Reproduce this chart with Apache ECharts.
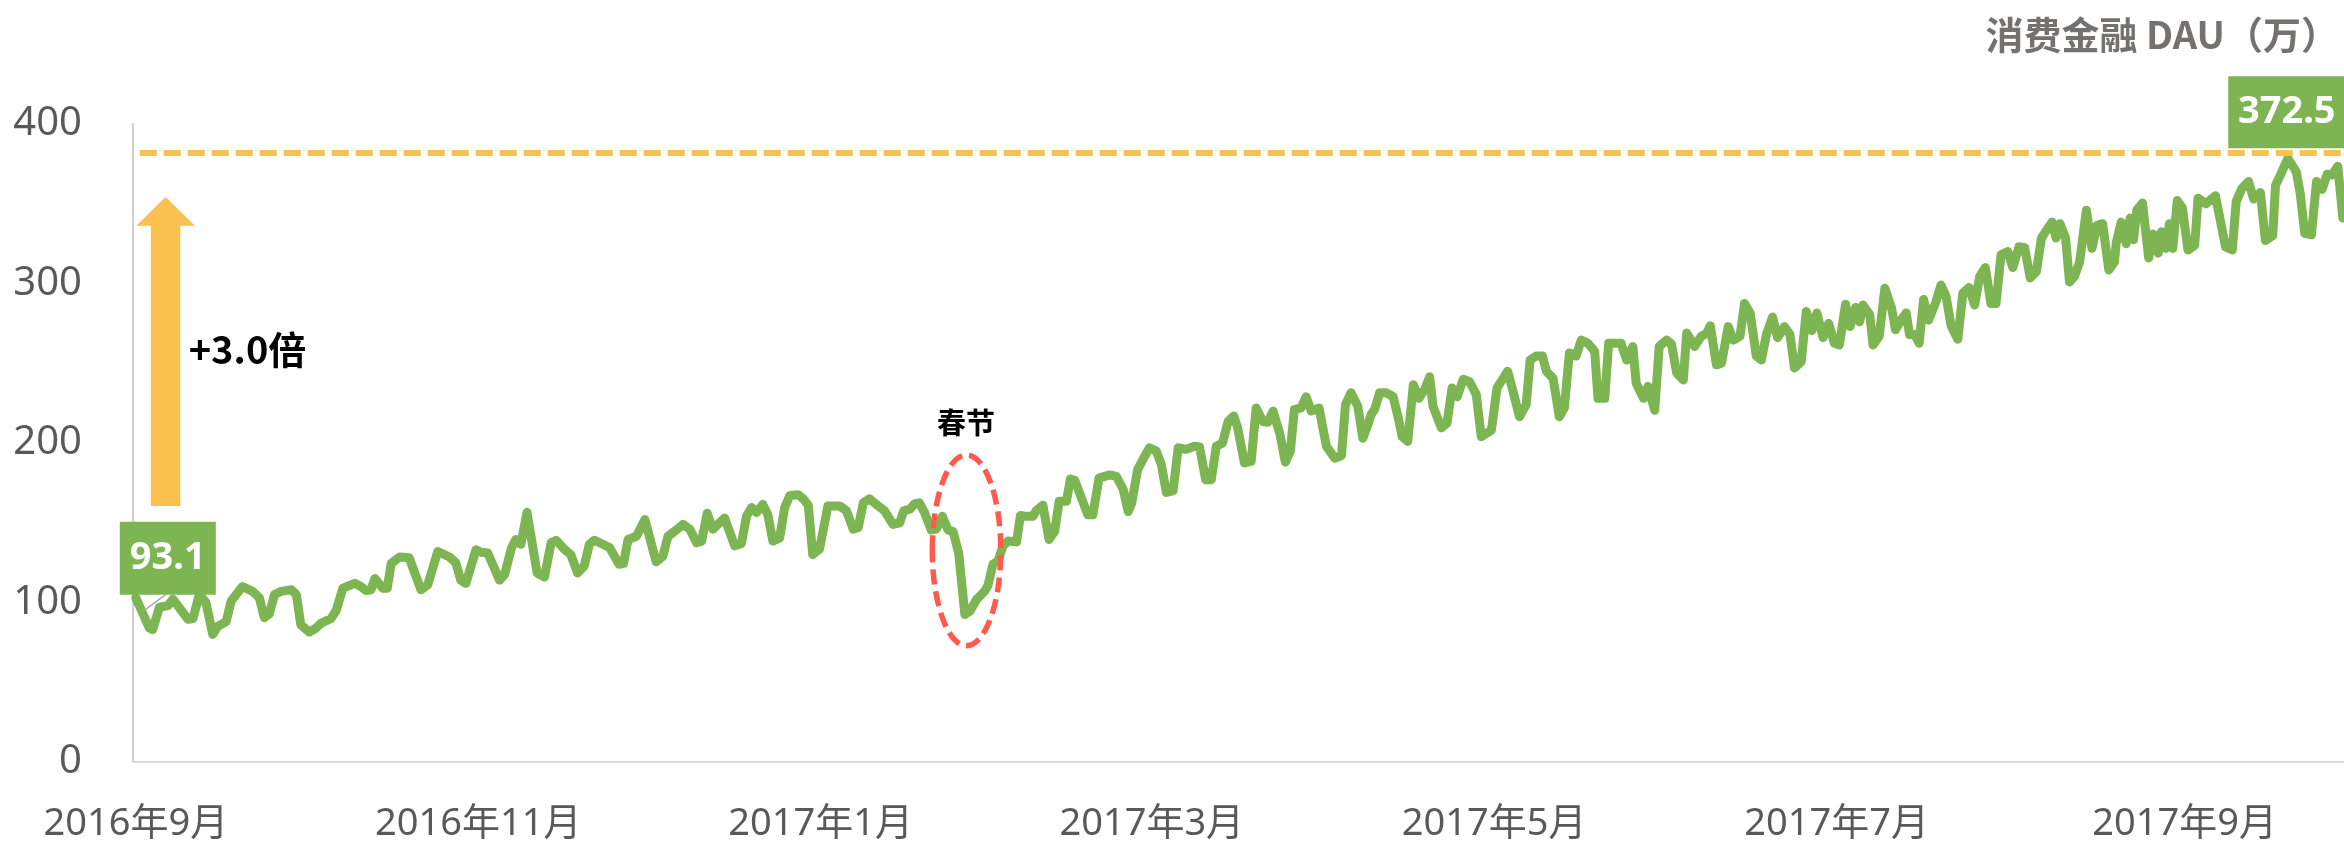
<!DOCTYPE html>
<html>
<head>
<meta charset="utf-8">
<title>消费金融 DAU</title>
<script src="https://cdn.jsdelivr.net/npm/echarts@6/dist/echarts.min.js"></script>
<style>
  html, body { margin: 0; padding: 0; background: #fff; }
  #chart { width: 2344px; height: 843px; }
</style>
</head>
<body>
<div id="chart"></div>
<script>
// x axis = days since 2016-09-01, y axis = DAU (万)
const tickDays = [0, 61, 122, 181, 242, 303, 365]
const tickLabels = ['2016年9月', '2016年11月', '2017年1月', '2017年3月', '2017年5月', '2017年7月', '2017年9月']

// [day, DAU]
const dauByDay = [
  [0, 103], [2.4, 84], [3.0, 83], [4.2, 97], [5.7, 98], [6.6, 102], [9.3, 89.5], [10.2, 90], [11.3, 105], [12.5, 100],
  [13.7, 80], [14.6, 85], [16.1, 88], [17.0, 101], [19.0, 110], [20.8, 107], [22.0, 103], [22.9, 90.5], [23.8, 93], [24.7, 105],
  [25.9, 107], [27.7, 108], [28.6, 105], [29.4, 86], [30.9, 81.5], [32.1, 84], [33.0, 87], [34.8, 90], [35.7, 95], [36.9, 109],
  [39.0, 112], [40.1, 110], [41.0, 107.5], [41.9, 108], [42.6, 115], [44.0, 109], [44.8, 109], [45.5, 124.5], [47.0, 128.5], [48.7, 128],
  [50.8, 108], [52.0, 111], [53.8, 132], [55.9, 128.5], [57.0, 125], [57.9, 114], [58.8, 112], [60.6, 133], [61.5, 131.5], [62.7, 131],
  [64.8, 114], [65.7, 117.5], [66.9, 134], [67.7, 139.5], [68.6, 136.5], [69.7, 156.5], [71.5, 118.5], [72.8, 116], [74.0, 137.5], [74.9, 139],
  [76.3, 133.5], [77.5, 130], [78.7, 118.5], [79.9, 123], [80.8, 136.5], [81.7, 139],
  [84.4, 134.5], [86.1, 124], [86.9, 124.5], [87.7, 139.5], [89.2, 141.5], [90.7, 152], [92.7, 125.5], [93.9, 129], [94.8, 141.5], [96.3, 145.5],
  [97.5, 149], [98.7, 146], [99.9, 137.5], [100.8, 138.5], [101.8, 156], [102.8, 146], [104.9, 153], [106.7, 135.5], [107.9, 137], [108.8, 154],
  [109.7, 159.5], [110.6, 156.5], [111.7, 161.5], [112.6, 155], [113.5, 138.5], [114.7, 140.5], [115.6, 159.5], [116.5, 167], [118.0, 167.5], [118.9, 165],
  [119.8, 161], [120.6, 130], [121.8, 133.5], [123.3, 160.5], [125.4, 160.5], [126.6, 157.5], [127.8, 146], [128.7, 147], [129.6, 162.5], [130.7, 165],
  [131.9, 161.5], [133.4, 157.5], [134.9, 149], [136.1, 150], [136.8, 157.5], [137.9, 158.5], [138.8, 162], [139.6, 162.5], [140.5, 156.5], [141.7, 145.5],
  [142.6, 146], [143.7, 154], [144.7, 145.5], [145.6, 144.5], [146.6, 131], [147.7, 92.5], [148.6, 94.5], [149.8, 102], [151.2, 107], [151.8, 110.5],
  [152.7, 124], [153.6, 126], [154.5, 135.5], [155.4, 138.5], [156.9, 138], [157.6, 154.5], [158.6, 154], [159.8, 154], [160.4, 157.5], [161.6, 161],
  [162.7, 139.5], [163.7, 144.5], [164.5, 163.5], [165.8, 163.5], [166.5, 177.5], [167.3, 176.5], [168.2, 168],
  [169.6, 155], [170.5, 155], [171.6, 178], [173.5, 180], [174.7, 179], [175.9, 171], [176.8, 157], [177.4, 162], [178.5, 183.5], [179.7, 191.5],
  [180.6, 197], [181.8, 195], [182.7, 186.5], [183.6, 169], [184.8, 170], [185.7, 197], [187.1, 196], [188.6, 198], [189.5, 197.5], [190.6, 177],
  [191.6, 177], [192.5, 198], [193.6, 200], [194.6, 213.5], [195.6, 217], [196.3, 209.5], [197.5, 187.5], [198.7, 188.5], [199.6, 222], [200.8, 213.5],
  [201.7, 213], [202.6, 220], [203.8, 206], [204.8, 188], [205.7, 195], [206.4, 221], [207.6, 222], [208.5, 229], [209.4, 220], [210.8, 222],
  [212.1, 198], [213.6, 190.5], [214.8, 192], [215.5, 224], [216.5, 231.5], [217.7, 223], [218.6, 203], [219.5, 211.5], [220.1, 218], [220.7, 221],
  [221.6, 231.5], [222.8, 231.5], [224.0, 229], [225.0, 214.5], [225.6, 204], [226.6, 201], [227.6, 236.5], [228.6, 228], [229.6, 233.5], [230.5, 241.5],
  [231.1, 223], [232.6, 209.5], [233.6, 212.5], [234.5, 234.5], [235.4, 229], [236.5, 240], [237.6, 238.5], [238.8, 230.5], [239.7, 204], [241.5, 208],
  [242.5, 234.5], [243.6, 240.5], [244.4, 245], [245.5, 230.5], [246.5, 216.5],
  [247.7, 224], [248.4, 252], [249.5, 254.5], [250.6, 254.5], [251.3, 245], [252.5, 240.5], [253.6, 216.5], [254.5, 222], [255.4, 256.5], [256.6, 254.5],
  [257.5, 264.5], [258.7, 262.5], [259.9, 257.5], [260.5, 228], [261.7, 228], [262.4, 262.5], [263.8, 262.5], [264.6, 262.5], [265.6, 252], [266.7, 260.5],
  [267.3, 237.5], [268.6, 228], [269.4, 235.5], [270.6, 220.5], [271.4, 260.5], [272.7, 264.5], [273.6, 262], [274.5, 244], [275.7, 239.5], [276.3, 269],
  [277.7, 260.5], [278.9, 267], [279.8, 268.5], [280.5, 273.5], [281.6, 249], [282.5, 250], [283.7, 273], [284.6, 264.5], [285.8, 267], [286.6, 287.5],
  [287.6, 281.5], [288.7, 254.5], [289.6, 252], [290.5, 268], [291.6, 279], [292.5, 266], [293.7, 273], [294.7, 268], [295.5, 247], [296.7, 251],
  [297.6, 282.5], [298.6, 270.5], [299.5, 281.5], [300.6, 266], [301.6, 275], [302.6, 262.5], [303.5, 261.5], [304.6, 287], [305.4, 273], [306.4, 285],
  [307.1, 276], [307.7, 286.5], [308.9, 280.5], [309.5, 261.5], [310.6, 267], [311.6, 297], [312.8, 284.5], [313.5, 271], [314.5, 277], [315.4, 281.5],
  [316.0, 268], [316.9, 268], [317.7, 262.5], [318.5, 290], [319.4, 277], [320.7, 288.5], [321.6, 299], [322.5, 292], [323.4, 273.5], [324.6, 265],
  [325.5, 294], [326.6, 297.5], [327.6, 286.5], [328.5, 304.5],
  [329.5, 310], [330.5, 287.5], [331.4, 287.5], [332.3, 318], [333.5, 320], [334.4, 310], [335.5, 323], [336.5, 322.5], [337.5, 303.5], [338.6, 307.5],
  [339.5, 328.5], [340.4, 333.5], [341.4, 338.5], [342.1, 328.5], [342.8, 337.5], [343.8, 328.5], [344.5, 301], [345.4, 304.5], [346.3, 313.5], [347.5, 346],
  [348.5, 322], [349.4, 336.5], [350.4, 337.5], [351.5, 308.5], [352.5, 313.5], [352.8, 325], [353.7, 338.5], [354.6, 325], [355.3, 341], [355.9, 327.5],
  [356.5, 346], [357.5, 350.5], [358.6, 316], [359.4, 331], [360.3, 319], [360.9, 332.5], [361.7, 322], [362.3, 337.5], [362.9, 322], [363.7, 352],
  [364.6, 347.5], [365.6, 321], [366.8, 324], [367.4, 353.5], [368.8, 350], [370.5, 355], [372.3, 323], [373.5, 321], [374.2, 351.5], [375.2, 359.5],
  [376.4, 364], [377.3, 353], [378.5, 357], [379.4, 327], [380.7, 330], [381.2, 361.5], [382.2, 369], [383.4, 378.5], [384.9, 370], [385.6, 356.5],
  [386.4, 331.5], [387.6, 330.5], [388.5, 364], [389.5, 359], [390.4, 368.5], [391.3, 368], [392.3, 373.5], [393.2, 341]
]

const startValue = 93.1
const peakValue = 372.5
const targetLevel = 382
const growthText = '+3.0倍'
const holidayText = '春节'

const green = '#7DB553'
const orange = '#FBC14F'
const red = '#FF5B4C'
const labelFont = '"Noto Sans", "Noto Sans CJK SC", sans-serif'
const boldFont = '"Noto Sans CJK SC", "Noto Sans", sans-serif'

const chart = echarts.init(document.getElementById('chart'))

function textMark(coord, text, size) {
  return {
    coord: coord,
    symbol: 'rect',
    symbolSize: [1, 1],
    itemStyle: { color: 'rgba(0,0,0,0)' },
    label: {
      show: true,
      position: 'inside',
      formatter: text,
      color: '#000',
      fontSize: size,
      fontWeight: 'bold',
      fontFamily: boldFont
    }
  }
}

function valueBox(coord, size, offsetY, text) {
  return {
    coord: coord,
    symbol: 'rect',
    symbolSize: size,
    symbolOffset: [0, offsetY],
    itemStyle: { color: green },
    label: {
      show: true,
      position: 'inside',
      formatter: text,
      color: '#fff',
      fontSize: 38,
      fontWeight: 'bold',
      fontFamily: labelFont
    }
  }
}

const option = {
  animation: false,
  backgroundColor: '#fff',
  title: {
    text: '消费金融 DAU（万）',
    right: 0,
    top: 11,
    textStyle: {
      color: '#767171',
      fontSize: 38,
      fontWeight: 'bold',
      fontFamily: boldFont
    }
  },
  grid: { left: 133, right: 0, top: 124, bottom: 80 },
  xAxis: {
    type: 'value',
    min: -0.5,
    max: 393.4,
    axisLine: { show: true, onZero: false, lineStyle: { color: '#D9D9D9', width: 2 } },
    axisTick: { show: false },
    splitLine: { show: false },
    axisLabel: {
      customValues: tickDays,
      formatter: function (v) { return tickLabels[tickDays.indexOf(v)] },
      margin: 43,
      fontSize: 38,
      color: '#595959',
      fontFamily: labelFont
    }
  },
  yAxis: {
    type: 'value',
    min: 0,
    max: 400,
    interval: 100,
    axisLine: { show: true, onZero: false, lineStyle: { color: '#CFCFCF', width: 2 } },
    axisTick: { show: false },
    splitLine: { show: false },
    axisLabel: {
      margin: 51,
      fontSize: 40,
      color: '#595959',
      fontFamily: labelFont
    }
  },
  series: [
    {
      type: 'custom',
      name: 'arrow',
      silent: true,
      z: 1,
      data: [[5.3, 160.5, 336.2, 354.3]],
      renderItem: function (params, api) {
        const bottom = api.coord([api.value(0), api.value(1)])
        const base = api.coord([api.value(0), api.value(2)])
        const tip = api.coord([api.value(0), api.value(3)])
        const x = bottom[0]
        const hw = 14.7
        const hh = 29.3
        return {
          type: 'polygon',
          shape: {
            points: [
              [x - hw, bottom[1]], [x - hw, base[1]], [x - hh, base[1]], [x, tip[1]],
              [x + hh, base[1]], [x + hw, base[1]], [x + hw, bottom[1]]
            ]
          },
          style: { fill: orange }
        }
      }
    },
    {
      type: 'line',
      name: '消费金融 DAU',
      data: dauByDay,
      showSymbol: false,
      silent: true,
      z: 2,
      lineStyle: { color: green, width: 9, join: 'round', cap: 'round' },
      markLine: {
        silent: true,
        symbol: ['none', 'none'],
        label: { show: false },
        data: [
          [
            { coord: [0.7, targetLevel], lineStyle: { color: orange, width: 6, type: [17, 7] } },
            { coord: [393.4, targetLevel], lineStyle: { color: orange, width: 6, type: [17, 7] } }
          ],
          [
            { coord: [1.3, 94.5], lineStyle: { color: '#A6A6A6', width: 1.5, type: 'solid' } },
            { coord: [5.3, 105], lineStyle: { color: '#A6A6A6', width: 1.5, type: 'solid' } }
          ]
        ]
      },
      markPoint: {
        silent: true,
        data: [
          valueBox([5.7, 127.8], [96, 73], 0, String(startValue)),
          valueBox([383.2, 378.5], [117, 72], -46, String(peakValue)),
          textMark([19.9, 258.8], growthText, 38),
          textMark([147.9, 212.3], holidayText, 29)
        ]
      }
    },
    {
      type: 'custom',
      name: 'holiday',
      silent: true,
      z: 3,
      data: [[148, 132.7, 6.1, 59.8]],
      renderItem: function (params, api) {
        const c = api.coord([api.value(0), api.value(1)])
        const s = api.size([api.value(2), api.value(3)])
        return {
          type: 'ellipse',
          shape: { cx: c[0], cy: c[1], rx: s[0], ry: s[1] },
          style: { fill: null, stroke: red, lineWidth: 5.5, lineDash: [15, 7] }
        }
      }
    }
  ]
}

chart.setOption(option)
</script>
</body>
</html>
